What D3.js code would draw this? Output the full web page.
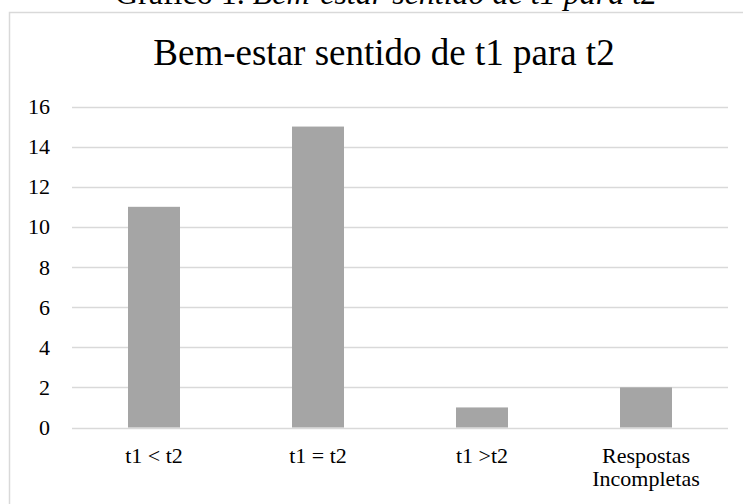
<!DOCTYPE html>
<html>
  <head>
    <meta charset="utf-8">
    <script src="https://d3js.org/d3.v7.min.js"></script>
    <style>
      body { margin: 0; background: #fff; }
      text { font-family: "Liberation Serif", "Times New Roman", serif; fill: #000; }
    </style>
  </head>
  <body>
    <div id="my_dataviz"></div>
    <script>
    // chart values
    var categories = ["t1 < t2", "t1 = t2", "t1 >t2", "Respostas\nIncompletas"];
    var values = [11, 15, 1, 2];
    var yTicks = [0, 2, 4, 6, 8, 10, 12, 14, 16];
    var caption = "Gráfico 1.";
    var captionItalic = "Bem-estar sentido de t1 para t2";
    var title = "Bem-estar sentido de t1 para t2";

    var width = 743, height = 504;
    var margin = {top: 106.5, right: 15, bottom: 76.5, left: 72};

    var svg = d3.select("#my_dataviz")
      .append("svg")
      .attr("width", width)
      .attr("height", height);

    // caption above the chart box (cut at the top in the original)
    var cap = svg.append("text")
      .attr("x", 386)
      .attr("y", 4)
      .attr("text-anchor", "middle")
      .style("font-size", "32px");
    cap.append("tspan").text(caption + " ");
    cap.append("tspan").style("font-style", "italic").text(captionItalic);

    // chart box
    svg.append("rect")
      .attr("x", 9.5)
      .attr("y", 12.5)
      .attr("width", 800)
      .attr("height", 600)
      .attr("fill", "none")
      .attr("stroke", "#d9d9d9")
      .attr("stroke-width", 1.5);

    // title
    svg.append("text")
      .attr("x", 384)
      .attr("y", 65)
      .attr("text-anchor", "middle")
      .style("font-size", "37px")
      .text(title);

    var x = d3.scaleBand()
      .domain(categories)
      .range([margin.left, width - margin.right])
      .paddingInner(0.683)
      .paddingOuter(0.683 / 2);

    var y = d3.scaleLinear()
      .domain([0, 16])
      .range([height - margin.bottom, margin.top]);

    // gridlines
    svg.append("g")
      .selectAll("line")
      .data(yTicks)
      .enter()
      .append("line")
      .attr("x1", margin.left)
      .attr("x2", width - margin.right)
      .attr("y1", function (d) { return Math.round(y(d)) + 0.5; })
      .attr("y2", function (d) { return Math.round(y(d)) + 0.5; })
      .attr("stroke", "#d9d9d9")
      .attr("stroke-width", 1.5);

    // y axis labels
    var yAxis = svg.append("g")
      .attr("transform", "translate(" + (margin.left - 22) + ",0)")
      .call(d3.axisLeft(y).tickValues(yTicks).tickSize(0).tickPadding(0));
    yAxis.select(".domain").remove();
    yAxis.selectAll("text")
      .attr("fill", "#000")
      .style("font-size", "22px")
      .style("font-family", "'Liberation Serif', serif");

    // bars
    svg.append("g")
      .selectAll("rect")
      .data(values)
      .enter()
      .append("rect")
      .attr("x", function (d, i) { return x(categories[i]); })
      .attr("width", x.bandwidth())
      .attr("y", function (d) { return y(d); })
      .attr("height", function (d) { return y(0) - y(d); })
      .attr("fill", "#a5a5a5");

    // category labels
    var labels = svg.append("g")
      .selectAll("text")
      .data(categories)
      .enter()
      .append("text")
      .attr("text-anchor", "middle")
      .attr("transform", function (d) {
        return "translate(" + (x(d) + x.bandwidth() / 2) + ",463)";
      })
      .style("font-size", "22px");
    labels.each(function (d) {
      var t = d3.select(this);
      d.split("\n").forEach(function (line, i) {
        t.append("tspan")
          .attr("x", 0)
          .attr("y", i * 23)
          .text(line);
      });
    });
    </script>
  </body>
</html>
